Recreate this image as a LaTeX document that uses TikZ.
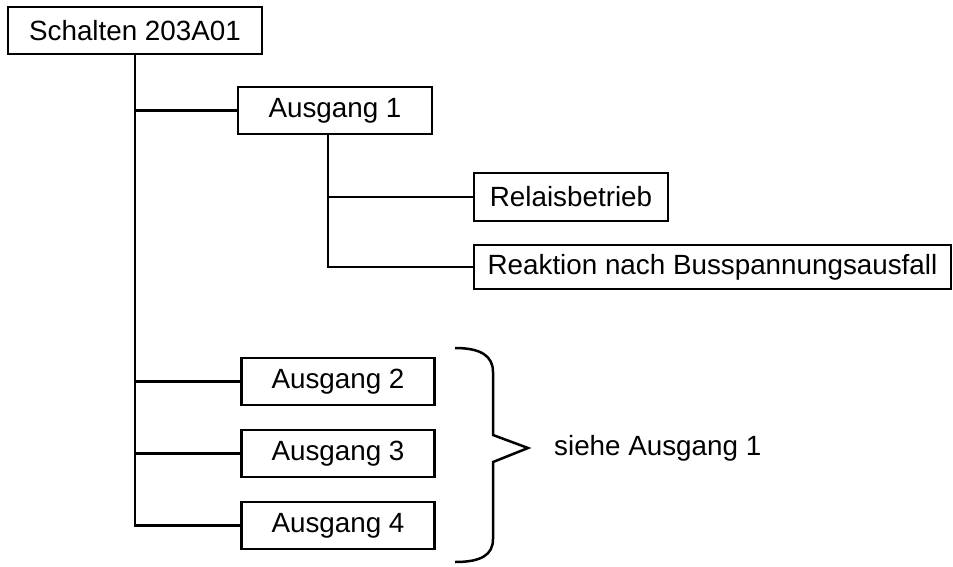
\documentclass[tikz,border=0pt]{standalone}
\usepackage{fontspec}
\setmainfont{Liberation Sans}
\usetikzlibrary{positioning}
\tikzset{
  menubox/.style={draw, line width=2.1pt, inner sep=0pt, minimum height=47pt,
    minimum width=194pt, align=center, font=\fontsize{27.8}{33}\selectfont},
  branch/.style={line width=2.5pt},
  bracket/.style={line width=2.5pt, line join=miter}
}

\begin{document}
\begin{tikzpicture}[x=1pt,y=-1pt]
  \useasboundingbox (0,0) rectangle (953,566);

  \node[menubox,minimum width=254pt] (root) at (135,30.5) {Schalten 203A01};

  \node[menubox] (a1) at (335,110.5) {Ausgang 1};
  \node[menubox,minimum height=48pt] (rel) at (571,197) {Relaisbetrieb};
  \node[menubox,minimum width=477pt,minimum height=44pt] (reak) at (712.5,267)
    {Reaktion nach Busspannungsausfall};

  \node[menubox,minimum width=193pt] (a2) at (338,381.5) {Ausgang 2};
  \node[menubox,minimum width=193pt] (a3) at (338,453.5) {Ausgang 3};
  \node[menubox,minimum width=193pt] (a4) at (338,525.5) {Ausgang 4};

  % main trunk with its branches
  \draw[branch] (root.south) |- (a4.west);
  \draw[branch] (root.south |- a1.west) -- (a1.west);
  \draw[branch] (root.south |- a2.west) -- (a2.west);
  \draw[branch] (root.south |- a3.west) -- (a3.west);

  % sub-menu of output 1
  \coordinate (sub) at (328,0);
  \draw[branch] (a1.south -| sub) |- (reak.west);
  \draw[branch] (sub |- rel.west) -- (rel.west);

  % curly bracket around outputs 2-4
  \coordinate (tip) at (528,448);
  \draw[bracket] (455,348) .. controls (481,348) and (493,356) .. (493,372)
    -- (493,435) -- (tip) -- (493,462) -- (493,539)
    .. controls (493,555) and (481,562) .. (455,562);
  \node[anchor=west,inner sep=0pt,font=\fontsize{27.8}{33}\selectfont]
    (note) at (554,448) {siehe Ausgang 1};
\end{tikzpicture}
\end{document}
